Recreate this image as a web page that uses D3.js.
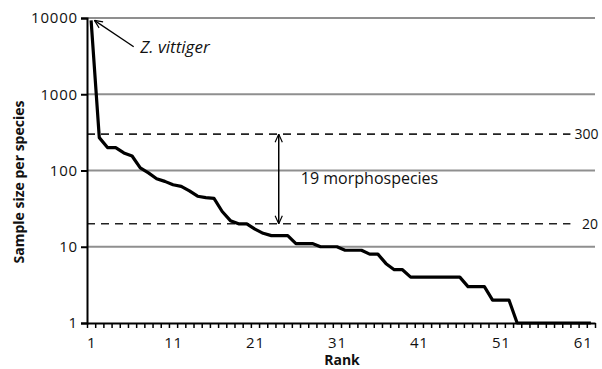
<!DOCTYPE html>
<html>
<head>
<meta charset="utf-8">
<script src="https://cdn.jsdelivr.net/npm/d3@7"></script>
<style>
  body { margin: 0; background: #fff; }
  svg { display: block; font-family: "Open Sans", sans-serif; }
</style>
</head>
<body>
<svg></svg>
<script>
// sample size per species, ordered by rank
const ranks = d3.range(1, 63);
const sampleSize = [9300, 270, 200, 200, 170, 155, 108, 93, 78, 72,
                    65, 62, 54, 46, 44, 43, 29, 22, 20, 20,
                    17, 15, 14, 14, 14, 11, 11, 11, 10, 10,
                    10, 9, 9, 9, 8, 8, 6, 5, 5, 4,
                    4, 4, 4, 4, 4, 4, 3, 3, 3, 2,
                    2, 2, 1, 1, 1, 1, 1, 1, 1, 1,
                    1, 1];
const yTicks = [1, 10, 100, 1000, 10000];
const xLabels = [1, 11, 21, 31, 41, 51, 61];
const thresholds = [300, 20];

const w = 602, h = 369;
const margin = { top: 18, bottom: 46, left: 87, right: 7 };
const innerWidth = w - margin.left - margin.right;
const innerHeight = h - margin.top - margin.bottom;

const svg = d3.select("svg").attr("width", w).attr("height", h);
const g = svg.append("g")
  .attr("transform", `translate(${margin.left},${margin.top})`);

const x = d3.scaleLinear().domain([0.5, 62.5]).range([0, innerWidth]);
const y = d3.scaleLog().domain([1, 10000]).range([innerHeight, 0]);

// gridlines
g.selectAll(".grid")
  .data(yTicks.slice(1))
  .enter().append("line")
  .attr("x1", 0).attr("x2", innerWidth)
  .attr("y1", d => y(d)).attr("y2", d => y(d))
  .attr("stroke", "#8f8f8f").attr("stroke-width", 2);

// threshold dashed lines
g.selectAll(".thr")
  .data(thresholds)
  .enter().append("line")
  .attr("x1", 0).attr("x2", x(59.5))
  .attr("y1", d => y(d)).attr("y2", d => y(d))
  .attr("stroke", "#222").attr("stroke-width", 1.6)
  .attr("stroke-dasharray", "8,6");

g.selectAll(".thrlab")
  .data(thresholds)
  .enter().append("text")
  .attr("x", d => d === 300 ? x(60) : x(60.9))
  .attr("y", d => y(d) + 5)
  .attr("font-size", 14).attr("fill", "#111")
  .text(d => d);

// y axis
const yAxis = g.append("g")
  .call(d3.axisLeft(y).tickValues(yTicks).tickFormat(d3.format("d")).tickSize(6).tickPadding(3));
yAxis.select(".domain").attr("stroke", "#000").attr("stroke-width", 2);
yAxis.selectAll(".tick line").attr("stroke", "#000").attr("stroke-width", 2);
yAxis.selectAll("text").attr("font-size", 15).attr("fill", "#111")
  .attr("font-family", "Open Sans").attr("letter-spacing", 0.8);

// x axis: tick marks at category edges
const xTickG = g.append("g")
  .attr("transform", `translate(0,${innerHeight})`)
  .call(d3.axisBottom(x).tickValues(d3.range(0.5, 63, 1)).tickFormat("").tickSize(5).tickSizeOuter(0));
xTickG.select(".domain").attr("stroke", "#000").attr("stroke-width", 2);
xTickG.selectAll(".tick line").attr("stroke", "#000").attr("stroke-width", 1.5);
xTickG.selectAll(".tick text").remove();

const xLabG = g.append("g")
  .attr("transform", `translate(0,${innerHeight})`)
  .call(d3.axisBottom(x).tickValues(xLabels).tickSize(0).tickPadding(14));
xLabG.select(".domain").remove();
xLabG.selectAll("text").attr("font-size", 15).attr("fill", "#111")
  .attr("font-family", "Open Sans").attr("letter-spacing", 0.8);

// data line
const line = d3.line()
  .x((d, i) => x(ranks[i]))
  .y(d => y(d));
g.append("path")
  .datum(sampleSize)
  .attr("d", line)
  .attr("fill", "none")
  .attr("stroke", "#000")
  .attr("stroke-width", 3.2)
  .attr("stroke-linejoin", "round");

// arrow markers
const defs = svg.append("defs");
defs.append("marker")
  .attr("id", "arr")
  .attr("viewBox", "0 0 10 10")
  .attr("refX", 10).attr("refY", 5)
  .attr("markerWidth", 9).attr("markerHeight", 9)
  .attr("markerUnits", "userSpaceOnUse")
  .attr("orient", "auto-start-reverse")
  .append("path")
  .attr("d", "M1,1 L10,5 L1,9")
  .attr("fill", "none").attr("stroke", "#000").attr("stroke-width", 1.3);

// Z. vittiger annotation
g.append("line")
  .attr("x1", x(6.2)).attr("y1", y(4200))
  .attr("x2", x(1.4)).attr("y2", y(9300))
  .attr("stroke", "#000").attr("stroke-width", 1.3)
  .attr("marker-end", "url(#arr)");
g.append("text")
  .attr("x", x(7)).attr("y", y(4200) + 6)
  .attr("font-size", 17).attr("font-style", "italic").attr("fill", "#111")
  .text("Z. vittiger");

// double arrow between thresholds
g.append("line")
  .attr("x1", x(23.9)).attr("y1", y(300))
  .attr("x2", x(23.9)).attr("y2", y(20))
  .attr("stroke", "#000").attr("stroke-width", 1.5)
  .attr("marker-start", "url(#arr)")
  .attr("marker-end", "url(#arr)");
g.append("text")
  .attr("x", x(26.6)).attr("y", y(80) + 6)
  .attr("font-size", 16).attr("fill", "#111")
  .text("19 morphospecies");

// axis titles
svg.append("text")
  .attr("x", margin.left + innerWidth / 2 + 1).attr("y", 365)
  .attr("text-anchor", "middle")
  .attr("font-size", 14).attr("font-weight", "bold").attr("fill", "#111")
  .text("Rank");
svg.append("text")
  .attr("transform", "translate(24,182)rotate(-90)")
  .attr("text-anchor", "middle")
  .attr("font-size", 14).attr("font-weight", "bold").attr("fill", "#111")
  .text("Sample size per species");
</script>
</body>
</html>
